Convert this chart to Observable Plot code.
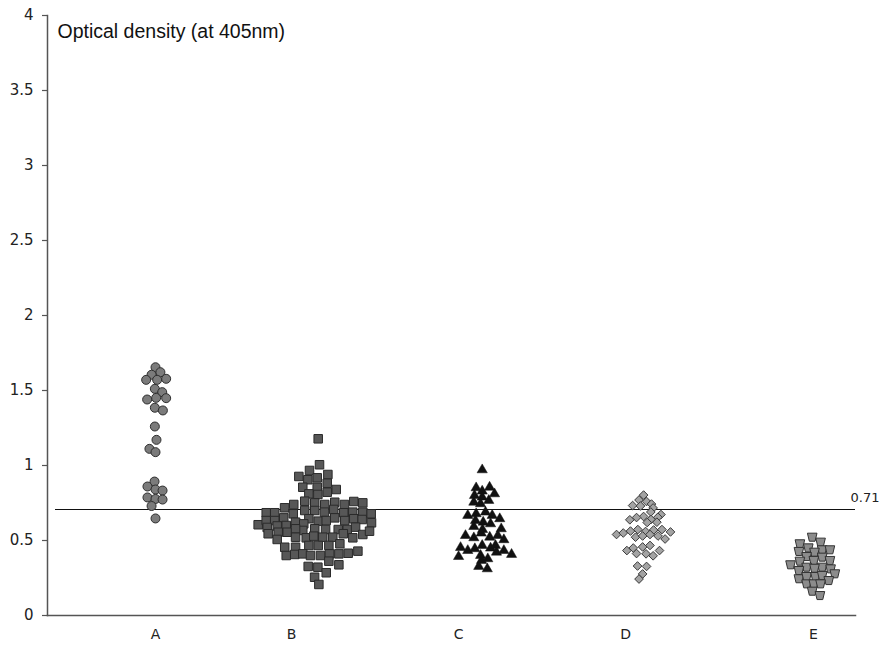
<!DOCTYPE html>
<html>
<head>
<meta charset="utf-8">
<script src="https://cdn.jsdelivr.net/npm/d3@7"></script>
<script src="https://cdn.jsdelivr.net/npm/@observablehq/plot@0.6"></script>
<style>
  html, body { margin: 0; padding: 0; background: #fff; }
  #chart svg { display: block; }
</style>
</head>
<body>
<div id="chart"></div>
<script>
// Categories and tick labels
const groups = ["A", "B", "C", "D", "E"];
const labelPositions = [0, 0.829, 1.848, 2.866, 4.012];
const yTicks = [0, 0.5, 1, 1.5, 2, 2.5, 3, 3.5, 4];
const threshold = 0.71;
const title = "Optical density (at 405nm)";

// Series values (optical density) and swarm offsets (in category widths)
const A_values = [1.655,1.622,1.605,1.571,1.571,1.578,1.511,1.489,1.44,1.451,1.449,1.385,1.367,1.26,1.171,1.111,1.089,0.893,0.86,0.84,0.833,0.787,0.777,0.773,0.73,0.647];
const A_offsets = [0,0.03,-0.024,-0.057,0.01,0.065,-0.004,0.041,-0.051,0.004,0.065,-0.004,0.045,-0.004,0.006,-0.037,0,-0.006,-0.049,0,0.043,-0.049,0,0.043,-0.024,0];

const B_values = [1.178,1.005,0.967,0.927,0.918,0.94,0.905,0.882,0.855,0.855,
  0.84,0.822,0.811,0.807,0.74,0.762,0.751,0.74,0.755,0.74,
  0.76,0.751,0.718,0.685,0.685,0.678,0.70,0.70,0.689,0.707,
  0.685,0.689,0.689,0.678,0.605,0.633,0.633,0.651,0.60,0.622,
  0.645,0.629,0.633,0.651,0.633,0.645,0.64,0.618,0.587,0.597,
  0.611,0.545,0.555,0.555,0.567,0.578,0.573,0.573,0.573,0.589,
  0.54,0.562,0.578,0.507,0.522,0.518,0.529,0.522,0.522,0.518,
  0.545,0.455,0.455,0.467,0.467,0.467,0.478,0.40,0.407,0.411,
  0.40,0.40,0.411,0.411,0.415,0.429,0.362,0.338,0.327,0.322,
  0.255,0.285,0.207];
const B_offsets = [-0.008,0,-0.061,-0.126,-0.014,0.051,-0.071,0.047,-0.102,-0.014,
  0.102,0.047,-0.065,-0.01,-0.157,-0.09,-0.029,0.032,0.093,0.152,
  0.209,0.264,-0.213,-0.325,-0.273,-0.16,-0.09,-0.029,0.03,0.087,
  0.148,0.203,0.264,0.315,-0.374,-0.325,-0.273,-0.218,-0.203,-0.146,
  -0.065,-0.008,0.041,0.093,0.154,0.209,0.26,0.317,-0.319,-0.258,
  -0.096,-0.313,-0.252,-0.197,-0.102,-0.029,0.037,0.114,0.169,0.22,
  0.264,0.305,-0.146,-0.258,-0.146,-0.081,-0.035,0.02,0.081,0.203,
  0.145,-0.212,-0.146,-0.065,-0.008,0.057,0.124,-0.203,-0.151,-0.102,
  -0.055,0.006,0.061,0.118,0.175,0.234,0.057,0.118,-0.069,-0.01,
  -0.03,0.041,-0.004];

const C_values = [0.971,0.851,0.829,0.855,0.811,0.80,0.789,0.767,0.755,0.745,
  0.667,0.678,0.689,0.667,0.645,0.633,0.622,0.611,0.593,0.578,
  0.573,0.533,0.518,0.549,0.522,0.533,0.505,0.453,0.433,0.445,
  0.467,0.449,0.467,0.433,0.407,0.393,0.40,0.378,0.422,0.367,
  0.327,0.311];
const C_offsets = [-0.008,-0.045,-0.008,0.037,0.067,-0.055,-0.008,0.032,-0.059,-0.018,
  -0.096,-0.045,0.012,0.053,0.099,-0.049,-0.002,0.043,-0.059,0.108,
  -0.006,-0.11,-0.059,-0.014,0.038,0.087,0.124,-0.14,-0.096,-0.053,
  -0.008,0.043,0.073,0.124,0.171,-0.152,-0.018,0.026,0.079,-0.012,
  -0.029,0.023];

const D_values = [0.803,0.77,0.76,0.733,0.73,0.743,0.717,0.69,0.673,0.66,
  0.653,0.638,0.64,0.655,0.622,0.62,0.54,0.55,0.563,0.573,
  0.56,0.57,0.573,0.557,0.522,0.53,0.54,0.53,0.51,0.433,
  0.45,0.457,0.467,0.433,0.413,0.411,0.398,0.33,0.327,0.277,
  0.243];
const D_offsets = [-0.024,-0.052,-0.006,-0.091,-0.043,0.024,0.034,0.02,0.082,-0.024,
  -0.067,-0.108,0.021,0.063,0.057,-0.002,-0.189,-0.148,-0.104,-0.059,
  -0.012,0.037,0.088,0.14,-0.073,-0.03,0.015,0.064,0.107,-0.126,
  -0.087,-0.03,0.015,0.073,-0.067,-0.009,0.034,-0.061,-0.006,-0.03,
  -0.052];

const E_values = [0.522,0.489,0.478,0.451,0.438,0.438,0.427,0.422,0.393,0.389,
  0.362,0.367,0.367,0.338,0.322,0.322,0.30,0.315,0.311,0.278,
  0.245,0.26,0.26,0.267,0.233,0.211,0.211,0.211,0.162,0.133];
const E_offsets = [0.004,0.055,-0.071,-0.02,0.065,0.112,-0.077,0.018,-0.03,0.065,
  -0.071,0.014,0.112,-0.128,-0.03,0.065,-0.077,0.018,0.116,0.142,
  -0.077,-0.03,0.024,0.065,0.105,-0.03,0.014,0.055,0.004,0.051];

// Build tidy rows
function rows(gi, values, offsets) {
  return values.map((v, k) => ({group: groups[gi], x: gi + offsets[k], y: v}));
}
const dataA = rows(0, A_values, A_offsets);
const dataB = rows(1, B_values, B_offsets);
const dataC = rows(2, C_values, C_offsets);
const dataD = rows(3, D_values, D_offsets);
const dataE = rows(4, E_values, E_offsets);

// Inverted trapezoid symbol for group E
const trapDown = {
  draw(ctx, size) {
    const s = Math.sqrt(size);
    const w1 = s * 0.5, w2 = s * 0.3, h = s * 0.42;
    ctx.moveTo(-w1, -h);
    ctx.lineTo(w1, -h);
    ctx.lineTo(w2, h);
    ctx.lineTo(-w2, h);
    ctx.closePath();
  }
};

const xDomain = [-0.6585, 4.268];
const tickFont = "DejaVu Sans, Verdana, sans-serif";

const chart = Plot.plot({
  width: 884,
  height: 657,
  marginLeft: 47,
  marginRight: 29,
  marginTop: 15,
  marginBottom: 42,
  style: {background: "#fff", overflow: "visible"},
  x: {type: "linear", domain: xDomain, axis: null},
  y: {type: "linear", domain: [0, 4], axis: null},
  marks: [
    Plot.frame({anchor: "left", stroke: "#555", strokeWidth: 1.5}),
    Plot.frame({anchor: "bottom", stroke: "#555", strokeWidth: 1.5}),
    Plot.axisY(yTicks, {
      tickSize: 5, tickPadding: 9, stroke: "#555", strokeWidth: 1.2,
      fontSize: 15, fontFamily: tickFont, fill: "#222",
      tickFormat: d => String(d), label: null
    }),
    Plot.axisX(labelPositions, {
      tickSize: 0, tickPadding: 14,
      fontSize: 14, fontFamily: tickFont, fill: "#222",
      tickFormat: (d, i) => groups[i], label: null
    }),
    Plot.ruleY([threshold], {x1: -0.61, x2: xDomain[1], stroke: "#111", strokeWidth: 1, shapeRendering: "crispEdges"}),
    Plot.text([threshold], {
      x: xDomain[1], y: d => d, text: d => String(d),
      textAnchor: "start", dx: -5, dy: -11,
      fontSize: 13, fontFamily: tickFont, fill: "#222"
    }),
    Plot.text([title], {
      frameAnchor: "top-left", textAnchor: "start", lineAnchor: "top",
      dx: 10, dy: 9, fontSize: 19.5, fontFamily: "Liberation Sans, Arial, sans-serif", fill: "#111"
    }),
    Plot.dot(dataA, {x: "x", y: "y", symbol: "circle", r: 4.5, fill: "#7b7b7b", stroke: "#2e2e2e", strokeWidth: 1}),
    Plot.dot(dataB, {x: "x", y: "y", symbol: "square", r: 4.8, fill: "#575757", stroke: "#2a2a2a", strokeWidth: 1}),
    Plot.dot(dataC, {x: "x", y: "y", symbol: "triangle", r: 3.8, fill: "#111", stroke: "#111", strokeWidth: 0.5}),
    Plot.dot(dataD, {x: "x", y: "y", symbol: "diamond2", r: 3.9, fill: "#a3a3a3", stroke: "#3a3a3a", strokeWidth: 1}),
    Plot.dot(dataE, {x: "x", y: "y", symbol: trapDown, r: 5.4, fill: "#8c8c8c", stroke: "#333", strokeWidth: 1})
  ]
});

document.getElementById("chart").appendChild(chart);
</script>
</body>
</html>
